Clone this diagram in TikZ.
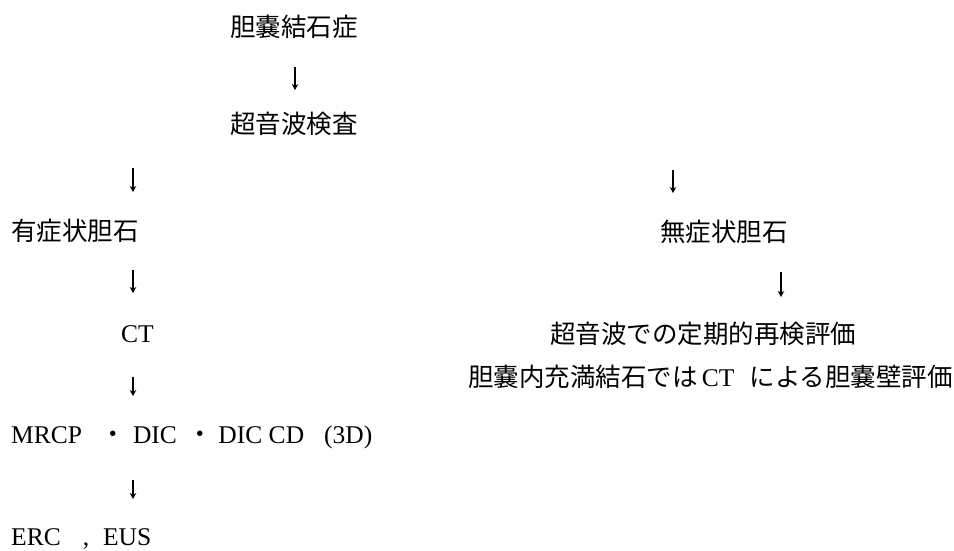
\documentclass[tikz,border=0pt]{standalone}
\usepackage{fontspec}
\setmainfont{Liberation Serif}
\newfontfamily\jp{Noto Sans CJK JP}
\usetikzlibrary{arrows.meta}
\begin{document}
\begin{tikzpicture}[x=1pt,y=-1pt,
  lbl/.style={inner sep=0pt, anchor=base west, font=\fontsize{25.5}{30}\selectfont},
  jtxt/.style={inner sep=0pt, anchor=base west, font=\jp\fontsize{25.5}{30}\selectfont},
  arr/.style={line width=1.3pt, -{Stealth[length=6pt,width=6.5pt]}}]
\fill[white] (0,0) rectangle (954,550);
\useasboundingbox (0,0) rectangle (954,550);

\node[jtxt] (gs) at (230,36) {胆嚢結石症};
\node[jtxt] (us) at (230,133) {超音波検査};
\node[jtxt] (sym) at (11,240) {有症状胆石};
\node[jtxt] (asym) at (660,241) {無症状胆石};
\node[lbl] (ct) at (121,342) {CT};
\node[jtxt] (fol) at (550,343) {超音波での定期的再検評価};
\node[jtxt, anchor=base east] (wall) at (953,386) {胆嚢内充満結石では\hspace{4pt}{\rmfamily CT}\hspace{15pt}による胆嚢壁評価};
\node[lbl] (mr) at (11,443) {MRCP\hspace{18.5pt}{\jp ・}\hspace{7pt}DIC\hspace{11pt}{\jp ・}\hspace{5pt}DIC CD\hspace{20pt}(3D)};
\node[lbl] (erc) at (11,545) {ERC\hspace{22pt},\hspace{14pt}EUS};

\coordinate (a1s) at (295,67);  \coordinate (a1e) at (295,90);
\coordinate (l1s) at (133,168); \coordinate (l1e) at (133,192);
\coordinate (r1s) at (673,170); \coordinate (r1e) at (673,193);
\coordinate (l2s) at (133,270); \coordinate (l2e) at (133,293);
\coordinate (r2s) at (781,272); \coordinate (r2e) at (781,297);
\coordinate (l3s) at (133,377); \coordinate (l3e) at (133,396);
\coordinate (l4s) at (133,480); \coordinate (l4e) at (133,499);

\draw[arr] (a1s) -- (a1e);
\draw[arr] (l1s) -- (l1e);
\draw[arr] (r1s) -- (r1e);
\draw[arr] (l2s) -- (l2e);
\draw[arr] (r2s) -- (r2e);
\draw[arr] (l3s) -- (l3e);
\draw[arr] (l4s) -- (l4e);
\end{tikzpicture}
\end{document}
